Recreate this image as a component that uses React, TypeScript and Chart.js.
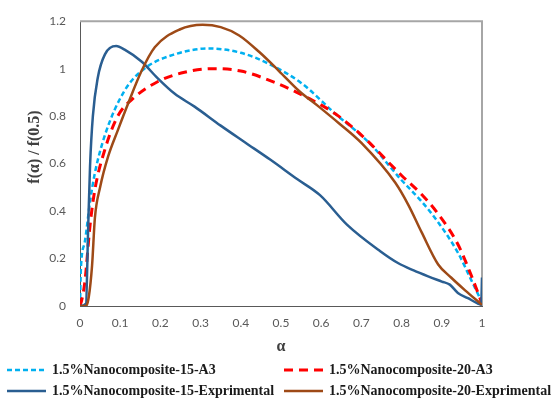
import React, { useEffect, useRef } from "react";
import { Chart, registerables } from "chart.js";

Chart.register(...registerables);

const seriesLabels = [
  "1.5%Nanocomposite-15-A3",
  "1.5%Nanocomposite-20-A3",
  "1.5%Nanocomposite-15-Exprimental",
  "1.5%Nanocomposite-20-Exprimental",
];

const xTickValues = [0, 0.1, 0.2, 0.3, 0.4, 0.5, 0.6, 0.7, 0.8, 0.9, 1];
const yTickValues = [0, 0.2, 0.4, 0.6, 0.8, 1, 1.2];

// 1.5%Nanocomposite-15-A3
const a15A3 = [0, 0.002, 0.012, 0.025, 0.037, 0.062, 0.11, 0.16, 0.235, 0.32, 0.4, 0.47, 0.55, 0.635, 0.718, 0.8, 0.85, 0.89, 0.94, 0.973, 1];
const v15A3 = [0, 0.15, 0.27, 0.44, 0.56, 0.72, 0.905, 1.0, 1.06, 1.085, 1.067, 1.02, 0.94, 0.81, 0.69, 0.53, 0.44, 0.355, 0.225, 0.11, 0.015];

// 1.5%Nanocomposite-20-A3
const a20A3 = [0, 0.005, 0.012, 0.025, 0.037, 0.062, 0.094, 0.136, 0.193, 0.26, 0.33, 0.4, 0.487, 0.569, 0.635, 0.7, 0.8, 0.85, 0.89, 0.94, 0.973, 1];
const v20A3 = [0, 0.03, 0.1, 0.34, 0.49, 0.66, 0.8, 0.88, 0.945, 0.985, 1.0, 0.99, 0.94, 0.875, 0.81, 0.72, 0.55, 0.47, 0.39, 0.26, 0.13, 0.01];

// 1.5%Nanocomposite-15-Exprimental
const a15Exp = [0, 0.015, 0.02, 0.025, 0.032, 0.044, 0.062, 0.09, 0.111, 0.153, 0.193, 0.235, 0.285, 0.35, 0.41, 0.473, 0.54, 0.597, 0.664, 0.746, 0.792, 0.83, 0.866, 0.9, 0.92, 0.94, 0.965, 0.99, 0.998, 1];
const v15Exp = [0, 0.01, 0.31, 0.59, 0.8, 0.96, 1.06, 1.095, 1.08, 1.03, 0.96, 0.895, 0.84, 0.76, 0.69, 0.617, 0.535, 0.467, 0.343, 0.232, 0.18, 0.15, 0.125, 0.103, 0.09, 0.055, 0.033, 0.01, 0.005, 0.12];

// 1.5%Nanocomposite-20-Exprimental
const a20Exp = [0, 0.015, 0.022, 0.03, 0.037, 0.05, 0.07, 0.094, 0.119, 0.153, 0.186, 0.248, 0.305, 0.35, 0.396, 0.446, 0.495, 0.545, 0.594, 0.644, 0.7, 0.784, 0.817, 0.85, 0.891, 0.923, 0.958, 1];
const v20Exp = [0, 0, 0.04, 0.17, 0.37, 0.5, 0.63, 0.74, 0.85, 0.99, 1.09, 1.165, 1.185, 1.175, 1.14, 1.07, 0.99, 0.906, 0.84, 0.77, 0.687, 0.52, 0.425, 0.31, 0.175, 0.12, 0.066, 0.005];

const toPoints = (xs: number[], ys: number[]) => xs.map((x, i) => ({ x, y: ys[i] }));
const fmt = (v: number) => String(Math.round(v * 10) / 10);

export default function App() {
  const ref = useRef<HTMLCanvasElement>(null);

  useEffect(() => {
    const canvas = ref.current;
    if (!canvas) return;

    const framePlugin = {
      id: "frame",
      beforeDatasetsDraw(chart: any) {
        const { ctx, chartArea: a } = chart;
        ctx.save();
        ctx.strokeStyle = "#a6a6a6";
        ctx.lineWidth = 2;
        ctx.beginPath();
        ctx.moveTo(a.left, a.top);
        ctx.lineTo(a.right, a.top);
        ctx.lineTo(a.right, a.bottom);
        ctx.stroke();
        ctx.restore();
      },
      afterDraw(chart: any) {
        const { ctx } = chart;
        ctx.save();
        ctx.translate(35, 147);
        ctx.rotate(-Math.PI / 2);
        ctx.fillStyle = "#404040";
        ctx.font = 'bold 16px "Liberation Serif"';
        ctx.textAlign = "center";
        ctx.textBaseline = "middle";
        ctx.fillText("f(α) / f(0.5)", 0, 0);
        ctx.restore();
      },
    };

    const legendSlots = [
      { x: 7, y: 370 },
      { x: 284, y: 370 },
      { x: 7, y: 391 },
      { x: 284, y: 391 },
    ];

    const legendPlugin = {
      id: "customLegend",
      afterDraw(chart: any) {
        const c = chart.ctx;
        c.save();
        chart.data.datasets.forEach((ds: any, i: number) => {
          const s = legendSlots[i];
          c.beginPath();
          c.setLineDash(ds.borderDash || []);
          c.lineWidth = ds.borderWidth;
          c.strokeStyle = ds.borderColor;
          c.moveTo(s.x, s.y);
          c.lineTo(s.x + 39, s.y);
          c.stroke();
          c.setLineDash([]);
          c.fillStyle = "#1a1a1a";
          c.font = 'bold 14px "Liberation Serif"';
          c.textBaseline = "middle";
          c.textAlign = "left";
          c.fillText(ds.label, s.x + 45, s.y);
        });
        c.restore();
      },
    };

    const chart = new Chart(canvas, {
      type: "line",
      data: {
        datasets: [
          {
            label: seriesLabels[0],
            data: toPoints(a15A3, v15A3),
            borderColor: "#00b0f0",
            borderWidth: 2.5,
            borderDash: [5, 3],
            order: 4,
          },
          {
            label: seriesLabels[1],
            data: toPoints(a20A3, v20A3),
            borderColor: "#ff0000",
            borderWidth: 3,
            borderDash: [9, 6],
            order: 3,
          },
          {
            label: seriesLabels[2],
            data: toPoints(a15Exp, v15Exp),
            borderColor: "#2a5e91",
            borderWidth: 2.5,
            order: 2,
          },
          {
            label: seriesLabels[3],
            data: toPoints(a20Exp, v20Exp),
            borderColor: "#9e4a17",
            borderWidth: 2.5,
            order: 1,
          },
        ] as any,
      },
      options: {
        animation: false,
        responsive: false,
        devicePixelRatio: 1,
        layout: { padding: { top: 16, right: 70, left: 0, bottom: 0 } },
        elements: {
          point: { radius: 0 },
          line: { cubicInterpolationMode: "monotone", fill: false },
        },
        plugins: {
          legend: { display: false },
          tooltip: { enabled: false },
        },
        scales: {
          x: {
            type: "linear",
            min: 0,
            max: 1,
            afterFit(s: any) {
              s.height = 92;
            },
            afterBuildTicks(s: any) {
              s.ticks = xTickValues.map((v) => ({ value: v }));
            },
            ticks: {
              padding: 10,
              color: "#595959",
              font: { family: "Lato", size: 12 },
              maxRotation: 0,
              callback: (v: any) => fmt(Number(v)),
            },
            grid: { display: false, drawTicks: false },
            border: { display: true, color: "#595959", width: 1 },
            title: {
              display: true,
              text: "α",
              color: "#404040",
              font: { family: "Liberation Serif", size: 16, weight: "bold" },
              padding: { top: 0, bottom: 42 },
            },
          },
          y: {
            type: "linear",
            min: 0,
            max: 1.2,
            afterFit(s: any) {
              s.width = 80;
            },
            afterBuildTicks(s: any) {
              s.ticks = yTickValues.map((v) => ({ value: v }));
            },
            ticks: {
              padding: 14,
              color: "#595959",
              font: { family: "Lato", size: 12 },
              callback: (v: any) => fmt(Number(v)),
            },
            grid: { display: false, drawTicks: false },
            border: { display: true, color: "#595959", width: 1 },
            title: { display: false },
          },
        },
      } as any,
      plugins: [framePlugin, legendPlugin],
    });

    return () => chart.destroy();
  }, []);

  return (
    <div style={{ position: "absolute", left: 0, top: 0, width: 552, height: 398, background: "#fff" }}>
      <canvas ref={ref} width={552} height={398} style={{ display: "block" }} />
    </div>
  );
}
